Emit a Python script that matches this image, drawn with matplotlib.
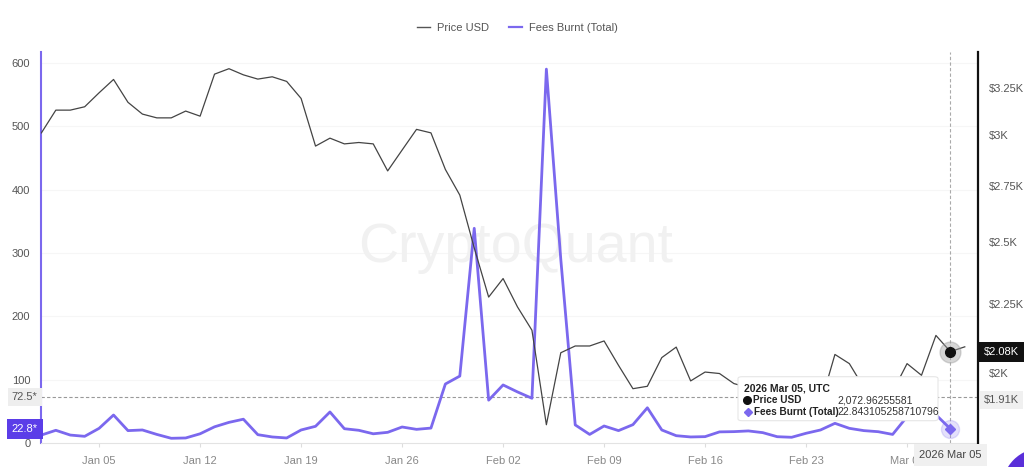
import numpy as np
import matplotlib
matplotlib.use("Agg")
import matplotlib.pyplot as plt
import matplotlib.transforms as mtransforms
from matplotlib.lines import Line2D
from matplotlib.patches import FancyBboxPatch, Circle
from matplotlib.ticker import NullLocator

plt.rcParams['font.family'] = ['Liberation Sans', 'DejaVu Sans']

# daily values, 2026-01-01 .. 2026-03-06
price_usd = [
    3010, 3129, 3129, 3147, 3223, 3297, 3171, 3108, 3088, 3088,
    3124, 3097, 3327, 3358, 3323, 3299, 3312, 3286, 3192, 2943,
    2983, 2954, 2961, 2954, 2821, 2923, 3028, 3010, 2828, 2707,
    2474,
    2275, 2348, 2237, 2150, 1830, 2069, 2093, 2093, 2111, 2025,
    1946, 1954, 2052, 2089, 1972, 2002, 1997, 1963, 1950, 1965,
    1975, 1955, 1910, 1895, 2063, 2031, 1950, 1940,
    1936, 2031, 1991, 2131, 2072.96255581, 2090,
]
# 2026-01-01 .. 2026-03-05
fees_burnt = [
    13, 20.5, 13, 11, 23.6, 44.6, 20, 21, 14, 7.9,
    8.4, 15, 26, 33, 38, 13.6, 10, 8.4, 21, 26.8,
    49.4, 23, 20.5, 15, 17.3, 25.7, 22, 24, 93.5, 106,
    339,
    68, 92, 81, 71, 590, 290, 29, 14, 27.3, 20,
    29.4, 56, 21, 12, 10, 10.5, 18, 18.4, 19.5, 16.8,
    10.4, 9.5, 15.8, 21, 31.5, 23.6, 20, 18.3,
    14, 42, 48, 45, 22.843105258710796,
]
start = np.datetime64('2026-01-01')
price_dates = start + np.arange(len(price_usd))
fee_dates = start + np.arange(len(fees_burnt))

x_ticks = ['2026-01-05', '2026-01-12', '2026-01-19', '2026-01-26', '2026-02-02',
           '2026-02-09', '2026-02-16', '2026-02-23', '2026-03-02']
x_labels = ['Jan 05', 'Jan 12', 'Jan 19', 'Jan 26', 'Feb 02',
            'Feb 09', 'Feb 16', 'Feb 23', 'Mar 02']
fee_ticks = [0, 100, 200, 300, 400, 500, 600]
price_ticks = [2000, 2250, 2500, 2750, 3000, 3250]
price_labels = [r'\$2K', r'\$2.25K', r'\$2.5K', r'\$2.75K', r'\$3K', r'\$3.25K']

hover_date = np.datetime64('2026-03-05')
hover_price = 2072.96255581
hover_fee = 22.843105258710796
cursor_fee = 72.5
cursor_price = 1910

purple = '#7b68ee'
W, H = 1024, 467


def px(x, y):
    return x / W, 1 - y / H


fig = plt.figure(figsize=(W / 100, H / 100), dpi=100)
ax = fig.add_axes([41.4 / W, 1 - 443.3 / H, (978 - 41.4) / W, (443.3 - 52) / H])
ax2 = ax.twinx()

# fees (left axis)
ax.plot(fee_dates, fees_burnt, color=purple, lw=2.0, zorder=3)
ax.set_ylim(0, 617)
ax.set_yticks(fee_ticks)
ax.tick_params(axis='y', length=0, pad=8, labelsize=8, labelcolor='#555555')
ax.set_xlim(start, np.datetime64('2026-03-06T22:00'))
ax.set_xticks([np.datetime64(d) for d in x_ticks])
ax.set_xticklabels(x_labels)
ax.tick_params(axis='x', length=3, color='#dddddd', pad=6, labelsize=8, labelcolor='#888888')
for y in fee_ticks[1:]:
    ax.axhline(y, color='#f6f6f6', lw=0.8, zorder=0)
for side in ['top', 'right']:
    ax.spines[side].set_visible(False)
ax.spines['left'].set_color(purple)
ax.spines['left'].set_linewidth(1.5)
ax.spines['bottom'].set_color('#e3e3e3')

ax.text(0.506, 0.5, 'CryptoQuant', transform=ax.transAxes, fontsize=40,
        color='#f1f1f1', ha='center', va='center', zorder=0)

# price (right axis, log)
ax2.plot(price_dates, price_usd, color='#444444', lw=0.9, zorder=3)
ax2.set_yscale('log')
ax2.set_ylim(1773, 3455)
ax2.set_yticks(price_ticks)
ax2.set_yticklabels(price_labels)
ax2.yaxis.set_minor_locator(NullLocator())
ax2.tick_params(axis='y', length=0, pad=8, labelsize=8, labelcolor='#555555')
for side in ['top', 'left', 'bottom']:
    ax2.spines[side].set_visible(False)
ax2.spines['right'].set_color('#111111')
ax2.spines['right'].set_linewidth(1.6)

# crosshair
ax.axhline(cursor_fee, color='#999999', lw=0.8, ls=(0, (3, 2)), zorder=2)
ax.axvline(hover_date, color='#aaaaaa', lw=0.8, ls=(0, (3, 2)), zorder=2)

ax2.plot(hover_date, hover_price, 'o', ms=15, color='#9a9a9a', alpha=0.4, zorder=5)
ax2.plot(hover_date, hover_price, 'o', ms=7, color='#111111', zorder=6)
ax.plot(hover_date, hover_fee, 'o', ms=13, color=purple, alpha=0.2, zorder=5)
ax.plot(hover_date, hover_fee, 'D', ms=5, color=purple, zorder=6)

left_tr = mtransforms.blended_transform_factory(ax.transAxes, ax.transData)
ax.text(-0.004, cursor_fee, '72.5*', transform=left_tr, ha='right', va='center',
        fontsize=8, color='#555555', clip_on=False, zorder=7,
        bbox=dict(boxstyle='square,pad=0.35', fc='#eeeeee', ec='none'))
ax.text(-0.004, hover_fee, '22.8*', transform=left_tr, ha='right', va='center',
        fontsize=8, color='white', clip_on=False, zorder=7,
        bbox=dict(boxstyle='square,pad=0.45', fc='#5b3de8', ec='none'))

right_tr = mtransforms.blended_transform_factory(ax2.transAxes, ax2.transData)
ax2.text(1.006, cursor_price, r'\$1.91K', transform=right_tr, ha='left', va='center',
         fontsize=8, color='#555555', clip_on=False, zorder=7,
         bbox=dict(boxstyle='square,pad=0.35', fc='#f0f0f0', ec='none'))
ax2.text(1.006, hover_price, r'\$2.08K', transform=right_tr, ha='left', va='center',
         fontsize=8, color='white', clip_on=False, zorder=7,
         bbox=dict(boxstyle='square,pad=0.45', fc='#111111', ec='none'))

bottom_tr = mtransforms.blended_transform_factory(ax2.transData, ax2.transAxes)
ax2.text(hover_date, -0.03, '2026 Mar 05', transform=bottom_tr, ha='center', va='center',
         fontsize=8, color='#444444', clip_on=False, zorder=7,
         bbox=dict(boxstyle='square,pad=0.5', fc='#f0f0f0', ec='none'))

# tooltip
x0, y0 = px(738, 420.7)
x1, y1 = px(938, 376.7)
fig.patches.append(FancyBboxPatch((x0, y0), x1 - x0, y1 - y0, transform=fig.transFigure,
                                  boxstyle='round,pad=0,rounding_size=0.004',
                                  fc='white', ec='#e6e6e6', lw=0.8, zorder=4))
fig.text(*px(744, 388.7), '2026 Mar 05, UTC', fontsize=7.5, fontweight='bold',
         color='#222222', va='center', zorder=5)
fig.text(*px(753, 400.3), 'Price USD', fontsize=7.2, fontweight='bold',
         color='#222222', va='center', zorder=5)
fig.text(*px(754, 411.7), 'Fees Burnt (Total)', fontsize=7.2, fontweight='bold',
         color='#222222', va='center', zorder=5)
fig.text(*px(837.5, 400.3), f'{hover_price:,.8f}', fontsize=7.5,
         color='#333333', va='center', zorder=5)
fig.text(*px(837.5, 411.7), f'{hover_fee:.15f}', fontsize=7.5,
         color='#333333', va='center', zorder=5)
fig.lines.append(Line2D([746.8 / W], [1 - 400.3 / H], marker='o', ms=5.5, color='#111111',
                        transform=fig.transFigure, zorder=5))
fig.lines.append(Line2D([747.5 / W], [1 - 411.7 / H], marker='D', ms=4.5, color=purple,
                        transform=fig.transFigure, zorder=5))

# chat widget corner
fig.patches.append(Circle((10.42, -0.21), 0.40, transform=fig.dpi_scale_trans,
                          fc='#5a2fd9', ec='none', zorder=4))

# legend
handles = [Line2D([], [], color='#555555', lw=1.0), Line2D([], [], color=purple, lw=1.6)]
fig.legend(handles, ['Price USD', 'Fees Burnt (Total)'], loc='center',
           bbox_to_anchor=px(517, 28), ncol=2, frameon=False, fontsize=8,
           handlelength=1.2, columnspacing=1.8, handletextpad=0.6, labelcolor='#555555')

fig.savefig('out.png', dpi=100)
